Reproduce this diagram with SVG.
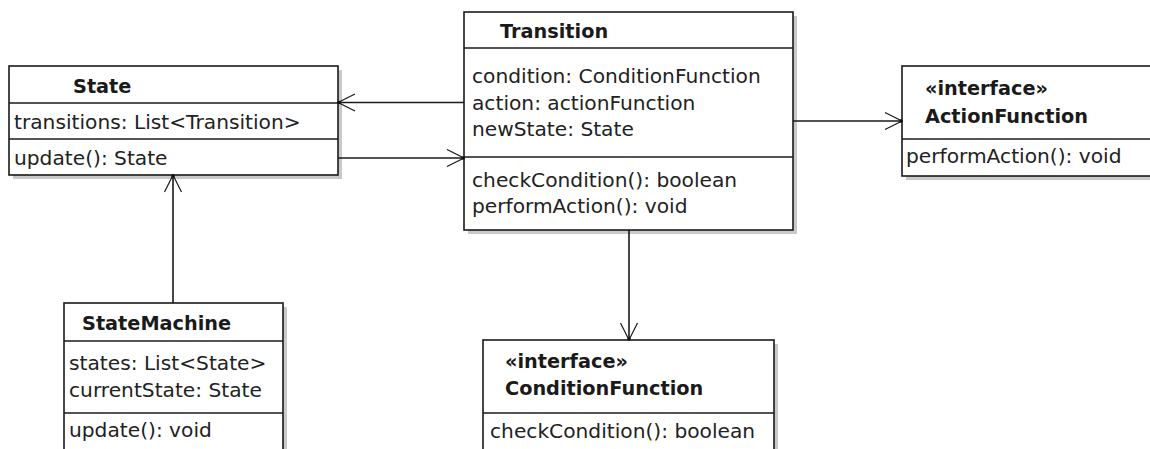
<svg xmlns="http://www.w3.org/2000/svg" width="1150" height="449" viewBox="0 0 1150 449">
<defs>
<style>
.sh{fill:#c9c9c9}
.bx{fill:#fff;stroke:#1a1a1a;stroke-width:1.6}
.dv{stroke:#1a1a1a;stroke-width:1.4}
.t{font-family:"DejaVu Sans",Verdana,sans-serif;font-size:20.2px;fill:#222}
.b{font-family:"DejaVu Sans",Verdana,sans-serif;font-size:19.3px;font-weight:bold;fill:#1a1a1a}
.ln{stroke:#1a1a1a;stroke-width:1.6;fill:none}
.ah{stroke:#1a1a1a;stroke-width:1.2;fill:none}
</style>
</defs>
<rect width="1150" height="449" fill="#fff"/>
<g id="State">
<rect class="sh" x="13" y="70" width="329" height="109"/>
<rect class="bx" x="9" y="66" width="329" height="109"/>
<line class="dv" x1="9" y1="103" x2="338" y2="103"/>
<line class="dv" x1="9" y1="139" x2="338" y2="139"/>
<text class="b" x="73" y="93">State</text>
<text class="t" x="14" y="129">transitions: List&lt;Transition&gt;</text>
<text class="t" x="14" y="165">update(): State</text>
</g>
<g id="Transition">
<rect class="sh" x="468" y="16" width="329" height="218"/>
<rect class="bx" x="464" y="12" width="329" height="218"/>
<line class="dv" x1="464" y1="48" x2="793" y2="48"/>
<line class="dv" x1="464" y1="157" x2="793" y2="157"/>
<text class="b" x="500" y="38">Transition</text>
<text class="t" x="472" y="83">condition: ConditionFunction</text>
<text class="t" x="472" y="109.5">action: actionFunction</text>
<text class="t" x="472" y="136">newState: State</text>
<text class="t" x="472" y="187">checkCondition(): boolean</text>
<text class="t" x="472" y="213">performAction(): void</text>
</g>
<g id="ActionFunction">
<rect class="sh" x="906" y="70" width="260" height="110"/>
<rect class="bx" x="902" y="66" width="260" height="110"/>
<line class="dv" x1="902" y1="139" x2="1162" y2="139"/>
<text class="b" x="925" y="95">«interface»</text>
<text class="b" x="925" y="123">ActionFunction</text>
<text class="t" x="906" y="163">performAction(): void</text>
</g>
<g id="StateMachine">
<rect class="sh" x="68" y="307" width="219" height="160"/>
<rect class="bx" x="64" y="303" width="219" height="160"/>
<line class="dv" x1="64" y1="341" x2="283" y2="341"/>
<line class="dv" x1="64" y1="413" x2="283" y2="413"/>
<text class="b" x="82" y="330">StateMachine</text>
<text class="t" x="69" y="370">states: List&lt;State&gt;</text>
<text class="t" x="69" y="397">currentState: State</text>
<text class="t" x="69" y="437">update(): void</text>
</g>
<g id="ConditionFunction">
<rect class="sh" x="487" y="344" width="291" height="120"/>
<rect class="bx" x="483" y="340" width="291" height="120"/>
<line class="dv" x1="483" y1="413" x2="774" y2="413"/>
<text class="b" x="505" y="368">«interface»</text>
<text class="b" x="505" y="395">ConditionFunction</text>
<text class="t" x="490" y="438">checkCondition(): boolean</text>
</g>
<g id="connectors">
<line class="ln" x1="464" y1="102.5" x2="338" y2="102.5"/>
<polyline class="ah" points="355,94 338,102.5 355,111"/>
<circle cx="339" cy="102.5" r="1.8" fill="#111"/>
<line class="ln" x1="338" y1="158" x2="464" y2="158"/>
<polyline class="ah" points="447,149.5 464,158 447,166.5"/>
<circle cx="463" cy="158" r="1.8" fill="#111"/>
<line class="ln" x1="793" y1="121" x2="902" y2="121"/>
<polyline class="ah" points="885,112.5 902,121 885,129.5"/>
<circle cx="901" cy="121" r="1.8" fill="#111"/>
<line class="ln" x1="629" y1="230" x2="629" y2="340"/>
<polyline class="ah" points="620.5,323 629,340 637.5,323"/>
<circle cx="629" cy="339" r="1.8" fill="#111"/>
<line class="ln" x1="173" y1="303" x2="173" y2="175"/>
<polyline class="ah" points="164.5,192 173,175 181.5,192"/>
<circle cx="173" cy="176" r="1.8" fill="#111"/>
</g>
</svg>
